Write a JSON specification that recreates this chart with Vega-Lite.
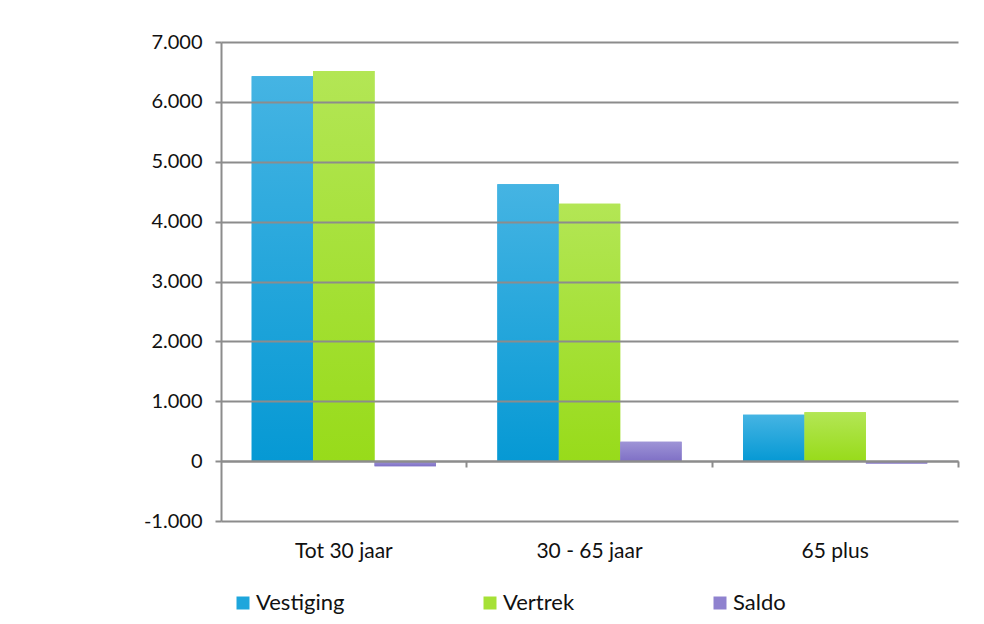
{
  "$schema": "https://vega.github.io/schema/vega-lite/v6.json",
  "width": 737,
  "height": 479,
  "autosize": {"type": "none"},
  "padding": {"left": 221, "top": 42, "right": 26, "bottom": 103},
  "background": "white",
  "config": {
    "locale": {"number": {"decimal": ",", "thousands": ".", "grouping": [3], "currency": ["€", ""], "minus": "-"}},
    "view": {"stroke": null},
    "font": "Lato"
  },
  "data": {
    "values": [
      {"groep": "Tot 30 jaar", "reeks": "Vestiging", "waarde": 6430},
      {"groep": "Tot 30 jaar", "reeks": "Vertrek", "waarde": 6515},
      {"groep": "Tot 30 jaar", "reeks": "Saldo", "waarde": -85},
      {"groep": "30 - 65 jaar", "reeks": "Vestiging", "waarde": 4625},
      {"groep": "30 - 65 jaar", "reeks": "Vertrek", "waarde": 4300},
      {"groep": "30 - 65 jaar", "reeks": "Saldo", "waarde": 325},
      {"groep": "65 plus", "reeks": "Vestiging", "waarde": 775},
      {"groep": "65 plus", "reeks": "Vertrek", "waarde": 815},
      {"groep": "65 plus", "reeks": "Saldo", "waarde": -40}
    ]
  },
  "encoding": {
    "x": {
      "field": "groep", "type": "nominal",
      "sort": ["Tot 30 jaar", "30 - 65 jaar", "65 plus"],
      "scale": {"paddingInner": 0, "paddingOuter": 0},
      "axis": {
        "title": null, "orient": "bottom", "offset": -60, "bandPosition": 1,
        "domainColor": "#8c8c8c", "domainWidth": 2,
        "tickColor": "#8c8c8c", "tickWidth": 2, "tickSize": 6,
        "labelPadding": 73, "labelFontSize": 21, "labelAngle": 0, "labelColor": "#111111",
        "zindex": 1
      }
    },
    "xOffset": {
      "field": "reeks", "type": "nominal",
      "sort": ["Vestiging", "Vertrek", "Saldo"],
      "scale": {"paddingInner": 0, "paddingOuter": 0.5}
    },
    "y": {
      "field": "waarde", "type": "quantitative",
      "scale": {"domain": [-1000, 7000], "nice": false, "zero": false},
      "axis": {
        "title": null, "values": [-1000, 0, 1000, 2000, 3000, 4000, 5000, 6000, 7000],
        "format": ",.0f", "grid": true, "gridColor": "#8c8c8c", "gridWidth": 2,
        "domainColor": "#8c8c8c", "domainWidth": 2,
        "tickColor": "#8c8c8c", "tickWidth": 2, "tickSize": 6,
        "labelPadding": 13, "labelFontSize": 20, "labelColor": "#111111",
        "zindex": 1
      }
    }
  },
  "layer": [
    {
      "mark": {"type": "bar"},
      "encoding": {
        "color": {
          "field": "reeks", "type": "nominal",
          "scale": {"domain": ["Vestiging", "Vertrek", "Saldo"], "range": ["#1ea6dc", "#a6e136", "#8f82cf"]},
          "legend": {
            "title": null, "orient": "none", "legendX": 11, "legendY": 550,
            "direction": "horizontal", "columns": 3, "columnPadding": 134, "gridAlign": "each",
            "symbolType": "square", "symbolSize": 169, "symbolStrokeWidth": 0,
            "labelFontSize": 22, "labelOffset": 2, "labelColor": "#111111"
          }
        }
      }
    },
    {
      "mark": {"type": "bar"},
      "encoding": {
        "fill": {
          "condition": [
            {"test": "datum.reeks === 'Vestiging'", "value": {"gradient": "linear", "x1": 0, "y1": 0, "x2": 0, "y2": 1, "stops": [{"offset": 0, "color": "#45b4e3"}, {"offset": 1, "color": "#0699d4"}]}},
            {"test": "datum.reeks === 'Vertrek'", "value": {"gradient": "linear", "x1": 0, "y1": 0, "x2": 0, "y2": 1, "stops": [{"offset": 0, "color": "#b3e655"}, {"offset": 1, "color": "#98db1a"}]}}
          ],
          "value": {"gradient": "linear", "x1": 0, "y1": 0, "x2": 0, "y2": 1, "stops": [{"offset": 0, "color": "#9e94d6"}, {"offset": 1, "color": "#7f70c6"}]}
        }
      }
    }
  ]
}
